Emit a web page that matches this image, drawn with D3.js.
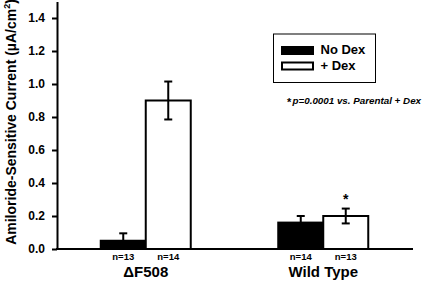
<!DOCTYPE html>
<html>
<head>
<meta charset="utf-8">
<script src="https://cdn.jsdelivr.net/npm/d3@7"></script>
<style>
  body { margin: 0; background: #fff; }
  text { font-family: "Liberation Sans", Arial, sans-serif; font-weight: bold; }
</style>
</head>
<body>
<div id="chart"></div>
<script>
// data
const groups = ["\u0394F508", "Wild Type"];
const series = ["No Dex", "+ Dex"];
const means = [[0.05, 0.90], [0.16, 0.20]];
const errors = [[0.045, 0.115], [0.04, 0.045]];
const counts = [["n=13", "n=14"], ["n=14", "n=13"]];
const sigFlags = [[false, false], [false, true]];
const yTicks = [0, 0.2, 0.4, 0.6, 0.8, 1.0, 1.2, 1.4];

const width = 422, height = 281;
const x0 = 57, x1 = 412, yBase = 249;

const svg = d3.select("#chart")
  .append("svg")
    .attr("width", width)
    .attr("height", height);

const xScale = d3.scaleBand()
                 .domain(groups)
                 .range([x0, x1])
                 .padding(0);
const xInner = d3.scaleBand()
                 .domain(series)
                 .range([0, 90]);
const yScale = d3.scaleLinear()
                 .domain([0, 1.5])
                 .range([yBase, 1.5]);

// flatten for drawing
const rows = [];
groups.forEach((g, i) => {
  series.forEach((s, j) => {
    rows.push({group: g, series: s, mean: means[i][j], err: errors[i][j], n: counts[i][j], sig: sigFlags[i][j]});
  });
});
const barX = d => xScale(d.group) + xScale.bandwidth() / 2 - 45 + xInner(d.series);
const barMid = d => barX(d) + xInner.bandwidth() / 2;

// bars
svg.selectAll("rect.bar")
   .data(rows)
   .enter()
   .append("rect")
   .attr("class", "bar")
   .attr("x", barX)
   .attr("y", d => yScale(d.mean))
   .attr("width", xInner.bandwidth())
   .attr("height", d => yBase - yScale(d.mean))
   .style("fill", d => d.series === "No Dex" ? "#000" : "#fff")
   .style("stroke", "#000")
   .style("stroke-width", 2);

// error bars
const eb = svg.selectAll("g.err")
   .data(rows)
   .enter()
   .append("g")
   .attr("class", "err")
   .style("stroke", "#000")
   .style("stroke-width", 2);
eb.append("line")
  .attr("x1", barMid).attr("x2", barMid)
  .attr("y1", d => yScale(d.mean + d.err))
  .attr("y2", d => yScale(d.mean - d.err));
eb.append("line")
  .attr("x1", d => barMid(d) - 4).attr("x2", d => barMid(d) + 4)
  .attr("y1", d => yScale(d.mean + d.err))
  .attr("y2", d => yScale(d.mean + d.err));
eb.append("line")
  .attr("x1", d => barMid(d) - 4).attr("x2", d => barMid(d) + 4)
  .attr("y1", d => yScale(d.mean - d.err))
  .attr("y2", d => yScale(d.mean - d.err));

// significance star
svg.selectAll("text.star")
   .data(rows.filter(d => d.sig))
   .enter()
   .append("text")
   .attr("class", "star")
   .attr("x", barMid)
   .attr("y", d => yScale(d.mean + d.err) - 5)
   .attr("text-anchor", "middle")
   .style("font-size", "14px")
   .text("*");

// n labels
svg.selectAll("text.nlab")
   .data(rows)
   .enter()
   .append("text")
   .attr("class", "nlab")
   .attr("x", barMid)
   .attr("y", 260)
   .attr("text-anchor", "middle")
   .style("font-size", "9.5px")
   .text(d => d.n);

// group labels
svg.selectAll("text.glab")
   .data(groups)
   .enter()
   .append("text")
   .attr("class", "glab")
   .attr("x", d => xScale(d) + xScale.bandwidth() / 2)
   .attr("y", 277)
   .attr("text-anchor", "middle")
   .style("font-size", "15px")
   .text(d => d);

// y axis
const yAxis = svg.append("g")
   .attr("transform", `translate(${x0},0)`)
   .call(d3.axisLeft(yScale).tickValues(yTicks).tickFormat(d3.format(".1f")).tickSize(5).tickSizeOuter(0));
yAxis.select(".domain").style("stroke-width", 2);
yAxis.selectAll(".tick line").style("stroke-width", 2);
yAxis.selectAll(".tick text")
     .attr("x", -12)
     .style("font-size", "12px")
     .style("font-family", "'Liberation Sans', Arial, sans-serif")
     .style("font-weight", "bold");

// x axis baseline
svg.append("line")
   .attr("x1", x0 - 1).attr("x2", 413)
   .attr("y1", yBase).attr("y2", yBase)
   .style("stroke", "#000")
   .style("stroke-width", 2);

// y title
const yt = svg.append("text")
   .attr("transform", "translate(16,122) rotate(-90)")
   .attr("text-anchor", "middle")
   .style("font-size", "14px");
yt.append("tspan").text("Amiloride-Sensitive Current (\u00b5A/cm");
yt.append("tspan").attr("dy", -6).style("font-size", "9px").text("2");
yt.append("tspan").attr("dy", 6).text(")");

// legend
const lg = svg.append("g");
lg.append("rect")
  .attr("x", 273.5).attr("y", 34)
  .attr("width", 102).attr("height", 48.5)
  .style("fill", "#fff").style("stroke", "#000").style("stroke-width", 1);
series.forEach((s, i) => {
  lg.append("rect")
    .attr("x", 282).attr("y", 47 + i * 15.5)
    .attr("width", 31).attr("height", 7)
    .style("fill", i === 0 ? "#000" : "#fff")
    .style("stroke", "#000").style("stroke-width", 2);
  lg.append("text")
    .attr("x", 320.5).attr("y", 54 + i * 15.5)
    .style("font-size", "13px")
    .text(s);
});

// note
svg.append("text")
   .attr("x", 287).attr("y", 105.5)
   .style("font-size", "11px")
   .text("*");
svg.append("text")
   .attr("x", 292.5).attr("y", 104)
   .style("font-size", "9.8px")
   .style("font-style", "italic")
   .text("p=0.0001 vs. Parental + Dex");
</script>
</body>
</html>
